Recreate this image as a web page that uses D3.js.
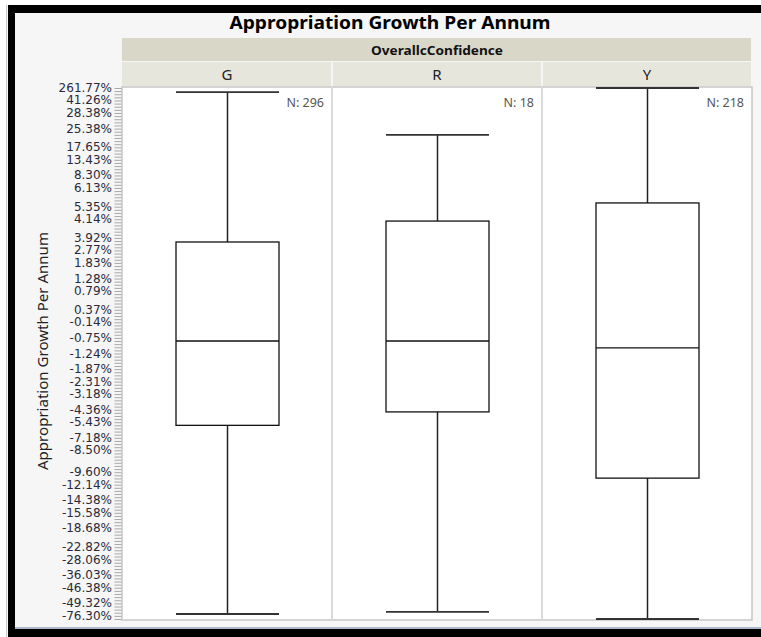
<!DOCTYPE html>
<html>
<head>
<meta charset="utf-8">
<script src="https://cdn.jsdelivr.net/npm/d3@7"></script>
<style>
  body { margin: 0; background: #ffffff; }
  svg { display: block; }
</style>
</head>
<body>
<svg id="chart" width="761" height="637"></svg>
<script>
// Box plot of appropriation growth, one panel per confidence level
// y axis is ordinal: each distinct value is one level (0 = top)

var groups = ["G", "R", "Y"];
var counts = [296, 18, 218];
// box stats, in level index units
var whiskerHigh = [1.3, 15, 0];
var q3 = [49.3, 42.6, 36.8];
var medians = [81, 81, 83.2];
var q1 = [108, 103.7, 124.9];
var whiskerLow = [168.4, 167.7, 170];

var levelCount = 171;
var tickLabels = ["261.77%", "41.26%", "28.38%", "25.38%", "17.65%", "13.43%", "8.30%", "6.13%",
  "5.35%", "4.14%", "3.92%", "2.77%", "1.83%", "1.28%", "0.79%", "0.37%", "-0.14%", "-0.75%",
  "-1.24%", "-1.87%", "-2.31%", "-3.18%", "-4.36%", "-5.43%", "-7.18%", "-8.50%", "-9.60%",
  "-12.14%", "-14.38%", "-15.58%", "-18.68%", "-22.82%", "-28.06%", "-36.03%", "-46.38%",
  "-49.32%", "-76.30%"];
var tickLevels = [0, 4, 8, 13, 19, 23, 28, 32, 38, 42, 48, 52, 56, 61, 65, 71, 75, 80, 85, 90,
  94, 98, 103, 107, 112, 116, 123, 127, 132, 136, 141, 147, 151, 156, 160, 165, 169];

var svg = d3.select("#chart");
var font = "'Noto Sans', 'Open Sans', sans-serif";

// window frame
svg.append("rect").attr("x", 7).attr("y", 5).attr("width", 754).attr("height", 632).attr("fill", "#f6f6f6");
svg.append("rect").attr("x", 8).attr("y", 5).attr("width", 753).attr("height", 8).attr("fill", "#000");
svg.append("rect").attr("x", 8).attr("y", 5).attr("width", 7).attr("height", 632).attr("fill", "#000");
svg.append("rect").attr("x", 8).attr("y", 629).attr("width", 753).attr("height", 8).attr("fill", "#000");
svg.append("rect").attr("x", 15).attr("y", 627).attr("width", 746).attr("height", 2).attr("fill", "#aeb6cc");
svg.append("rect").attr("x", 6).attr("y", 5).attr("width", 1).attr("height", 632).attr("fill", "#c8c8c8");

var plotLeft = 122, plotRight = 752, plotTop = 87, plotBottom = 620;

var x = d3.scaleBand().domain(groups).range([plotLeft, plotRight]);
var y = d3.scaleLinear().domain([0, levelCount - 1]).range([88, 619]);

// title
svg.append("text")
  .attr("x", 390).attr("y", 22)
  .attr("text-anchor", "middle").attr("dominant-baseline", "central")
  .attr("font-family", font).attr("font-weight", "bold").attr("font-size", 18)
  .attr("textLength", 321).attr("lengthAdjust", "spacingAndGlyphs")
  .attr("fill", "#000")
  .text("Appropriation Growth Per Annum");

// header bands
svg.append("rect").attr("x", plotLeft).attr("y", 38).attr("width", plotRight - plotLeft - 1).attr("height", 23)
  .attr("fill", "#d9d7c8");
svg.append("text")
  .attr("x", (plotLeft + plotRight) / 2).attr("y", 50)
  .attr("text-anchor", "middle").attr("dominant-baseline", "central")
  .attr("font-family", font).attr("font-weight", "bold").attr("font-size", 13)
  .attr("textLength", 132).attr("lengthAdjust", "spacingAndGlyphs")
  .attr("fill", "#111")
  .text("OverallcConfidence");

svg.selectAll(".cell")
  .data(groups).enter()
  .append("rect")
  .attr("class", "cell")
  .attr("x", function(d) { return x(d) + (d == groups[0] ? 0 : 1); })
  .attr("y", 62)
  .attr("width", function(d) { return x.bandwidth() - (d == groups[0] ? 1 : 2); })
  .attr("height", 24)
  .attr("fill", "#e7e6dc");

svg.selectAll(".cellText")
  .data(groups).enter()
  .append("text")
  .attr("x", function(d) { return x(d) + x.bandwidth() / 2; })
  .attr("y", 74)
  .attr("text-anchor", "middle").attr("dominant-baseline", "central")
  .attr("font-family", font).attr("font-size", 15)
  .attr("fill", "#222")
  .text(function(d) { return d; });

// panels
svg.append("rect").attr("x", plotLeft).attr("y", plotTop)
  .attr("width", plotRight - plotLeft).attr("height", plotBottom - plotTop)
  .attr("fill", "#fff").attr("stroke", "#c6c6c6").attr("stroke-width", 1.5);
groups.slice(1).forEach(function(g) {
  svg.append("line")
    .attr("x1", x(g)).attr("x2", x(g)).attr("y1", plotTop).attr("y2", plotBottom)
    .attr("stroke", "#dadada").attr("stroke-width", 2);
});

// y axis: minor tick for each level, label for some
var axis = d3.axisLeft(y)
  .tickValues(d3.range(levelCount))
  .tickSize(7)
  .tickFormat("");
var gAxis = svg.append("g").attr("transform", "translate(" + (plotLeft - 0.5) + ",0)").call(axis);
gAxis.select(".domain").remove();
gAxis.selectAll("line").attr("stroke", "#a8a8a8");

svg.selectAll(".ylab")
  .data(tickLabels).enter()
  .append("text")
  .attr("class", "ylab")
  .attr("x", 112)
  .attr("y", function(d, i) { return y(tickLevels[i]); })
  .attr("text-anchor", "end").attr("dominant-baseline", "central")
  .attr("font-family", "'DejaVu Sans', sans-serif").attr("font-size", 12)
  .attr("fill", "#2a2a3a")
  .text(function(d) { return d; });

svg.append("text")
  .attr("transform", "translate(42,351) rotate(-90)")
  .attr("text-anchor", "middle").attr("dominant-baseline", "central")
  .attr("font-family", font).attr("font-size", 14.5)
  .attr("textLength", 238).attr("lengthAdjust", "spacingAndGlyphs")
  .attr("fill", "#222")
  .text("Appropriation Growth Per Annum");

// boxes
var half = 51.5;
groups.forEach(function(g, i) {
  var cx = x(g) + x.bandwidth() / 2 + 0.5;
  var gp = svg.append("g");
  // whiskers
  gp.append("line").attr("x1", cx).attr("x2", cx).attr("y1", y(whiskerHigh[i])).attr("y2", y(q3[i]))
    .attr("stroke", "#222").attr("stroke-width", 1.5);
  gp.append("line").attr("x1", cx).attr("x2", cx).attr("y1", y(q1[i])).attr("y2", y(whiskerLow[i]))
    .attr("stroke", "#222").attr("stroke-width", 1.5);
  [whiskerHigh[i], whiskerLow[i]].forEach(function(v) {
    gp.append("line").attr("x1", cx - half).attr("x2", cx + half).attr("y1", y(v)).attr("y2", y(v))
      .attr("stroke", "#333").attr("stroke-width", 1.8);
  });
  gp.append("rect")
    .attr("x", cx - half).attr("y", y(q3[i]))
    .attr("width", half * 2).attr("height", y(q1[i]) - y(q3[i]))
    .attr("fill", "none").attr("stroke", "#111").attr("stroke-width", 1.3);
  gp.append("line").attr("x1", cx - half).attr("x2", cx + half).attr("y1", y(medians[i])).attr("y2", y(medians[i]))
    .attr("stroke", "#111").attr("stroke-width", 1.3);

  // N label
  svg.append("text")
    .attr("x", x(g) + x.bandwidth() - 8)
    .attr("y", 102)
    .attr("text-anchor", "end").attr("dominant-baseline", "central")
    .attr("font-family", font).attr("font-size", 12.5)
    .attr("fill", "#555")
    .text("N: " + counts[i]);
});
</script>
</body>
</html>
